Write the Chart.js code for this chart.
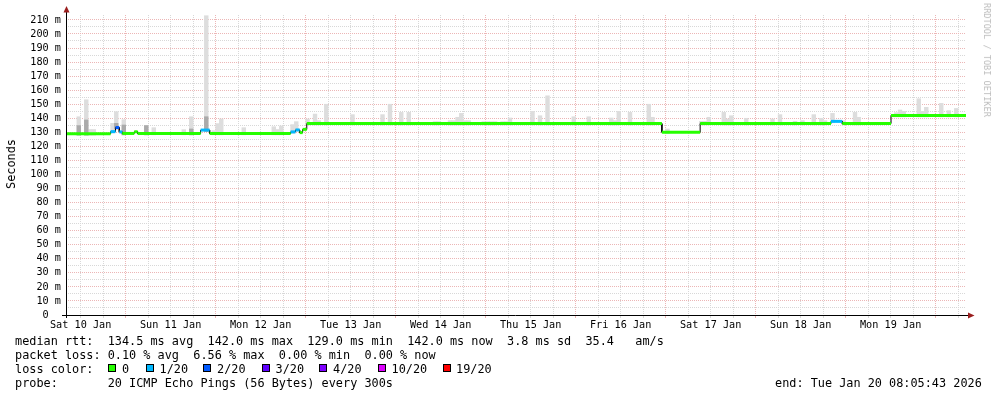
<!DOCTYPE html>
<html><head><meta charset="utf-8">
<script src="https://cdn.jsdelivr.net/npm/chart.js@4/dist/chart.umd.min.js"></script>
<style>
html,body{margin:0;padding:0;background:#fff;overflow:hidden}
#wrap{position:relative;width:997px;height:397px}
canvas{position:absolute;left:0;top:0}
.t{position:absolute;font-family:'DejaVu Sans Mono',monospace;font-size:11.85px;line-height:14px;color:#000;white-space:pre}
.sq{position:absolute;width:6px;height:6px;border:1px solid #000;top:364px}
.rot{position:absolute;font-family:'DejaVu Sans Mono',monospace;white-space:pre}
</style></head><body>
<div id="wrap"><canvas id="c" width="997" height="397"></canvas>
<div class="rot" style="left:11px;top:163.5px;font-size:11.85px;color:#000;transform:translate(-50%,-50%) rotate(-90deg)">Seconds</div>
<div class="rot" style="left:987px;top:60px;font-size:8.6px;color:#bdbdbd;transform:translate(-50%,-50%) rotate(90deg)">RRDTOOL / TOBI OETIKER</div>
<div class="t" style="left:15px;top:334px">median rtt:  134.5 ms avg  142.0 ms max  129.0 ms min  142.0 ms now  3.8 ms sd  35.4   am/s</div>
<div class="t" style="left:15px;top:348px">packet loss: 0.10 % avg  6.56 % max  0.00 % min  0.00 % now</div>
<div class="t" style="left:15px;top:362px">loss color:</div>
<div class="t" style="left:15px;top:376px">probe:       20 ICMP Echo Pings (56 Bytes) every 300s</div>
<div class="t" style="left:775px;top:376px">end: Tue Jan 20 08:05:43 2026</div>
<div id="lossLegend"></div>
</div>
<script>
// time axis: hours since Sat 10 Jan 00:00
const tStart = 8.095;
const tEnd = 248.095;
const dayLabels = ['Sat 10 Jan','Sun 11 Jan','Mon 12 Jan','Tue 13 Jan','Wed 14 Jan','Thu 15 Jan','Fri 16 Jan','Sat 17 Jan','Sun 18 Jan','Mon 19 Jan'];

// loss legend
const lossLabels = ['0','1/20','2/20','3/20','4/20','10/20','19/20'];
const lossColors = ['#26ff00','#00b8ff','#0059ff','#5e00ff','#7e00ff','#dd00ff','#ff0000'];

// median rtt segments (start hour, median ms, loss class)
const segStart  = [tStart, 20, 21.3, 22.3, 23.1, 26.3, 27.2, 44, 46.4, 68, 69.3, 70.4, 71.2, 72.3, 167, 177.2, 212.1, 215.1, 228.1];
const segMedian = [129.0, 130.5, 133.4, 130.3, 129.2, 130.4, 129.2, 131.6, 129.2, 130.3, 131.7, 129.8, 132.1, 136.2, 130.0, 136.2, 137.8, 136.2, 142.0];
const segLoss   = [0, 1, 2, 1, 0, 0, 0, 1, 0, 1, 1, 0, 0, 0, 0, 0, 1, 0, 0];

// smoke (ping spread) per hourly bin: bin start hour and top of spread in ms
const smokeBin = [11,13,14,15,20,21,23,29,31,39,
                  41,45,47,48,49,55,63,64,65,68,
                  69,72,74,75,77,84,92,94,97,99,
                  106,107,110,111,112,113,114,115,119,120,
                  121,122,124,125,126,132,134,136,143,147,
                  153,154,155,158,163,164,168,177,178,179,
                  183,184,185,189,196,198,202,204,207,209,
                  210,212,215,218,219,228,229,230,231,235,
                  236,237,241,243,245];
const smokeTop = [141.1,153.2,132,132,136.4,144.7,139,134.8,133.3,131.9,
                  141.1,213,131.2,136.2,139.5,133.3,134,132,134.5,135.5,
                  137.6,139.5,143,138.3,150,142.6,142.6,150,144.2,144.2,
                  137.6,137.6,138.3,138.3,140.7,143.5,138.3,138.3,137.6,137.6,
                  137.6,137.6,137.6,137.6,140.2,144.9,141.8,156,141.1,141.1,
                  140.2,138.3,144.9,144.2,150,140.7,132.4,137.8,137.8,140.7,
                  144.2,139.5,141.8,140,139.5,142.6,137.8,138.3,142.6,140,
                  138.3,143.5,138.3,144.2,140.7,141.1,144,145.9,144.9,153.9,
                  144.9,147.8,150.6,145.4,147];
// darker inner part of the smoke
const darkBin = [11, 13, 21, 23, 29, 41, 45];
const darkTop = [134.8, 138.8, 136.4, 135.2, 134.8, 132.4, 141.1];

// ---- build tables ----
const segEnd = segStart.slice(1).concat([tEnd]);
function medianAt(h){
  for (let i = segStart.length-1; i >= 0; i--) if (h >= segStart[i]) return segMedian[i];
  return segMedian[0];
}
const blackData = [];
const bandData = [];
segStart.forEach((s,i)=>{
  blackData.push({x:s,y:segMedian[i]},{x:segEnd[i],y:segMedian[i]});
  bandData.push({x:s,y:segMedian[i],loss:segLoss[i]},{x:segEnd[i],y:segMedian[i],loss:segLoss[i]},{x:segEnd[i],y:null,loss:0});
});
const smokeData = smokeBin.map((b,i)=>({x:b+0.5,y:[medianAt(b+0.5)-1, smokeTop[i]]}));
const darkData = darkBin.map((b,i)=>({x:b+0.5,y:[medianAt(b+0.5)-1, darkTop[i]]}));

// loss legend boxes
const sqLeft = [108,146,203,262,319,378,443];
const lbLeft = [122,159.5,217,275.5,333,391.5,456];
const ll = document.getElementById('lossLegend');
lossLabels.forEach((l,i)=>{
  const s = document.createElement('div'); s.className='sq';
  s.style.left = sqLeft[i]+'px'; s.style.background = lossColors[i]; ll.appendChild(s);
  const t = document.createElement('div'); t.className='t';
  t.style.left = lbLeft[i]+'px'; t.style.top='362px'; t.textContent = l; ll.appendChild(t);
});

const RED = '#ecb6b6', GREY = '#d8d8d8';
const tickFont = {family:'DejaVu Sans Mono', size:10.2};

const axesPlugin = {
  id:'axes',
  afterDatasetsDraw(chart){
    const {ctx, chartArea:a} = chart;
    ctx.save();
    ctx.strokeStyle = '#000'; ctx.lineWidth = 1;
    ctx.beginPath();
    ctx.moveTo(62, a.bottom+0.5); ctx.lineTo(969, a.bottom+0.5);
    ctx.moveTo(a.left+0.5, a.bottom+3); ctx.lineTo(a.left+0.5, 10);
    ctx.stroke();
    ctx.fillStyle = '#9a1e1e';
    ctx.beginPath();
    ctx.moveTo(a.left+0.5, 6); ctx.lineTo(a.left-2.5, 12.5); ctx.lineTo(a.left+3.5, 12.5); ctx.closePath(); ctx.fill();
    ctx.beginPath();
    ctx.moveTo(974.5, a.bottom+0.5); ctx.lineTo(968, a.bottom-2.5); ctx.lineTo(968, a.bottom+3.5); ctx.closePath(); ctx.fill();
    ctx.restore();
  }
};

new Chart(document.getElementById('c'), {
  type:'bar',
  data:{datasets:[
    {type:'line', data:bandData, borderWidth:3, borderCapStyle:'butt', pointRadius:0, spanGaps:false,
     borderColor:lossColors[0],
     segment:{borderColor: c => lossColors[bandData[c.p0DataIndex].loss]}, order:1},
    {type:'line', data:blackData, borderWidth:1, borderColor:'#000', pointRadius:0, order:2},
    {type:'bar', data:darkData, backgroundColor:'#aaaaaa', borderWidth:0, grouped:false, barPercentage:1, categoryPercentage:1, order:3},
    {type:'bar', data:smokeData, backgroundColor:'#dddddd', borderWidth:0, grouped:false, barPercentage:1, categoryPercentage:1, order:4}
  ]},
  options:{
    responsive:false, animation:false, maintainAspectRatio:false,
    layout:{padding:{left:0,right:31,top:15,bottom:0}},
    plugins:{legend:{display:false}, tooltip:{enabled:false}},
    scales:{
      x:{type:'linear', min:tStart, max:tEnd, offset:false,
        afterFit: s => { s.height = 82; },
        afterBuildTicks: s => { const t=[]; for(let v=12; v<tEnd; v+=6) t.push({value:v}); s.ticks=t; },
        border:{display:false, dash:[1,1]},
        grid:{offset:false, color: c => (c.tick && c.tick.value % 24 === 0) ? RED : GREY, lineWidth:1, drawTicks:true, tickLength:3},
        ticks:{autoSkip:false, maxRotation:0, minRotation:0, padding:1, color:'#000', font:tickFont,
          callback: v => ((v-12) % 24 === 0) ? dayLabels[(v-12)/24] : ''}
      },
      y:{min:0, max:213.5,
        afterFit: s => { s.width = 66; },
        afterBuildTicks: s => { const t=[]; for(let v=0; v<=210; v+=5) t.push({value:v}); s.ticks=t; },
        border:{display:false, dash:[1,1]},
        grid:{color: c => { const v = c.tick ? c.tick.value : 1; return v === 0 ? 'rgba(0,0,0,0)' : (v % 10 === 0 ? RED : GREY); }, lineWidth:1, drawTicks:false},
        ticks:{autoSkip:false, padding:5, color:'#000', font:tickFont,
          callback: v => (v % 10 !== 0) ? '' : (v === 0 ? '0  ' : v + ' m')}
      }
    }
  },
  plugins:[axesPlugin]
});
</script>
</body></html>
